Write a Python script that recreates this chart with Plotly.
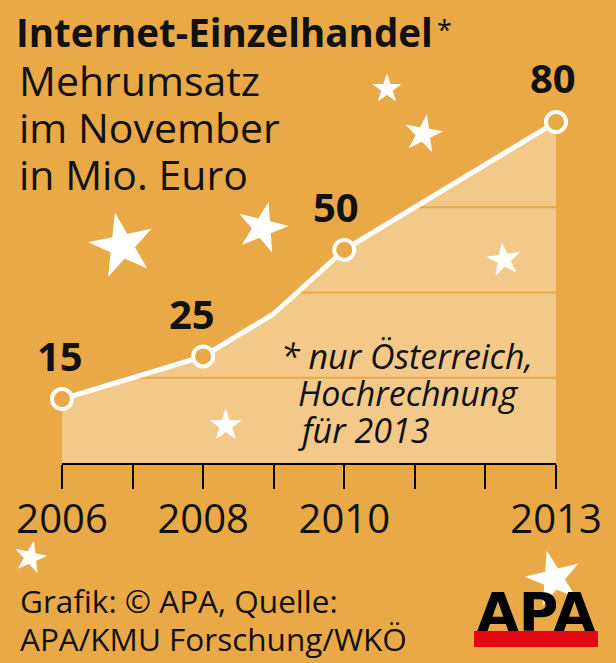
import plotly.graph_objects as go

# ---- data ----
years = [2006, 2008, 2009, 2010, 2013]
values = [15, 25, 35, 50, 80]
labeled_years = [2006, 2008, 2010, 2013]
tick_years = list(range(2006, 2014))
tick_labels = ["2006", "", "2008", "", "2010", "", "", "2013"]
grid_values = [20, 40, 60]

title = "Internet-Einzelhandel"
subtitle_lines = ["Mehrumsatz", "im November", "in Mio. Euro"]
footnote_lines = ["* nur Österreich,", "Hochrechnung", "für 2013"]
source_lines = ["Grafik: © APA, Quelle:", "APA/KMU Forschung/WKÖ"]

# ---- style ----
BG = "#E9A947"
FILL = "#F3C98A"
INK = "#111111"
W, H = 616, 663
ML, MR, MT, MB = 62, 60, 122, 200
PW, PH = W - ML - MR, H - MT - MB
FONT = "Open Sans"

# decorative stars: (x_px, y_px, font size, angle)
stars = [(121, 244, 84, -12), (262, 226, 66, 14), (387, 88, 38, 0), (423, 133, 50, 10),
         (503, 258, 44, -8), (226, 424, 42, 0), (31, 556, 42, 12), (553, 577, 72, -14)]
# label offsets (dx, dy) in px
label_shift = {2006: (-2, 44), 2008: (-11, 43), 2010: (-8, 43), 2013: (-3, 45)}

fig = go.Figure()

# area fill
fig.add_trace(go.Scatter(x=years, y=values, mode="lines", fill="tozeroy",
                         fillcolor=FILL, line=dict(width=0, color=FILL),
                         hoverinfo="skip", showlegend=False))

# gridlines (background coloured, visible only on the fill)
gx, gy = [], []
for g in grid_values:
    gx += [tick_years[0], tick_years[-1], None]
    gy += [g, g, None]
fig.add_trace(go.Scatter(x=gx, y=gy, mode="lines", line=dict(color=BG, width=2),
                         hoverinfo="skip", showlegend=False))

# white line with markers
sizes = [20 if y in labeled_years else 0 for y in years]
fig.add_trace(go.Scatter(x=years, y=values, mode="lines+markers",
                         line=dict(color="white", width=5),
                         marker=dict(size=sizes, color=BG, opacity=1,
                                     line=dict(color="white", width=4)),
                         cliponaxis=False, showlegend=False))

ann = []


def fx(x):
    return (x - ML) / PW


def fy(y):
    return 1 - (y - MT) / PH


def px(x, y, text, size, anchor="left", weight="normal", style="normal", color=INK,
       family=FONT, angle=0):
    return dict(x=fx(x), y=fy(y), xref="paper", yref="paper", text=text,
                showarrow=False, xanchor=anchor, yanchor="middle", textangle=angle,
                font=dict(family=family, size=size, color=color, weight=weight, style=style))


# stars (decoration, drawn first)
for sx, sy, ss, sa in stars:
    ann.append(px(sx, sy, "★", ss, anchor="center", color="white", family="DejaVu Sans", angle=sa))

# value labels
for yr, v in zip(years, values):
    if yr in labeled_years:
        dx, dy = label_shift[yr]
        ann.append(dict(x=yr, y=v, xref="x", yref="y", text=str(v), showarrow=False,
                        xshift=dx, yshift=dy,
                        font=dict(family=FONT, size=40, color=INK, weight="bold")))

# title
ann.append(px(14, 32, title, 38.5, weight="bold"))
ann.append(px(435, 29, "*", 27))
for i, line in enumerate(subtitle_lines):
    ann.append(px(17, 80 + i * 47, line, 41))
for i, line in enumerate(footnote_lines):
    ann.append(px(279 if i == 0 else 296, 356 + i * 37, line, 34, style="italic"))
for i, line in enumerate(source_lines):
    ann.append(px(18, 600 + i * 38, line, 31.5))
# APA logo
ann.append(dict(x=fx(536), y=fy(612), xref="paper", yref="paper", text="APA",
                showarrow=False, xanchor="center", yanchor="middle",
                font=dict(family="DejaVu Sans", size=54, color="black", weight="bold")))

shapes = [dict(type="rect", xref="paper", yref="paper", x0=fx(474), x1=fx(598),
               y0=fy(647), y1=fy(631), fillcolor="#E30613", line=dict(width=0),
               layer="above")]

fig.update_layout(
    width=W, height=H, margin=dict(l=ML, r=MR, t=MT, b=MB),
    paper_bgcolor=BG, plot_bgcolor=BG,
    annotations=ann, shapes=shapes,
    xaxis=dict(range=[2006, 2013], tickvals=tick_years, ticktext=tick_labels,
               showgrid=False, zeroline=False, showline=True, linecolor="black", linewidth=2,
               ticks="outside", ticklen=24, tickwidth=1.5, tickcolor="black",
               ticklabelstandoff=-4,
               tickfont=dict(family=FONT, size=40, color=INK), fixedrange=True),
    yaxis=dict(range=[0, 80], visible=False, fixedrange=True),
    showlegend=False,
)

fig.write_html("out.html", config={"displayModeBar": False},
               post_script="document.body.style.margin='0';document.body.style.background='%s';" % BG)
